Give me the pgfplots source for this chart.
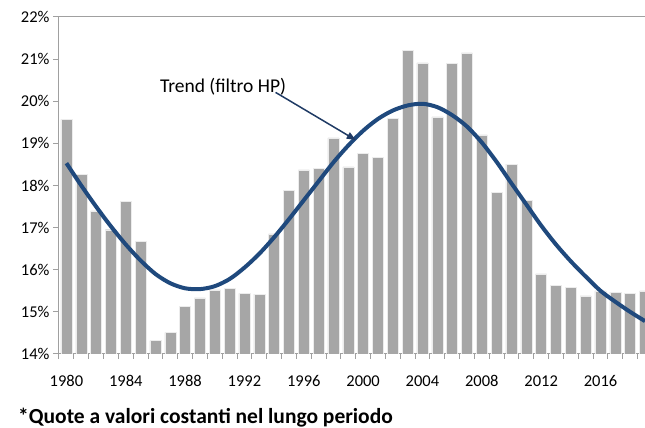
\documentclass[border=0pt]{standalone}
\usepackage{pgfplots}
\pgfplotsset{compat=1.18}
\usepackage{fontspec}
\setmainfont{Carlito}
\usetikzlibrary{arrows.meta}
\definecolor{bargray}{HTML}{A6A6A6}
\definecolor{trendblue}{HTML}{1F497D}
\definecolor{arrowblue}{HTML}{1F3A64}
\definecolor{axisgray}{HTML}{A0A0A0}
\begin{document}
\begin{tikzpicture}
\useasboundingbox (-59pt,-74pt) rectangle (586pt,354pt);
\clip (-59pt,-74pt) rectangle (586pt,354pt);
\begin{axis}[
    width=586pt, height=337pt,
    scale only axis,
    xmin=1979.5, xmax=2019,
    ymin=14, ymax=22,
    axis x line*=bottom,
    axis y line*=left,
    axis line style={draw=axisgray, line width=1pt, -},
    tick style={draw=axisgray, line width=1pt},
    tick align=outside,
    xtick={1980,1984,...,2016},
    major x tick style={draw=none},
    minor xtick={1979.5,1980.5,...,2018.5},
    minor tick length=5pt,
    ytick={14,15,...,22},
    major tick length=6pt,
    yticklabel={\pgfmathprintnumber{\tick}\%},
    xticklabel style={/pgf/number format/1000 sep={}},
    /pgf/number format/assume math mode=true,
    tick label style={font=\fontsize{16.5}{18}\selectfont, text=black},
    xticklabel style={yshift=-12pt},
    clip=true,
]
\draw[axisgray, line width=1pt] (axis cs:1979.5,22) -- (axis cs:2019,22);
\addplot[ybar, bar width=11pt, fill=bargray, draw=white!85!gray, line width=0.4pt]
coordinates {
(1980,19.57) (1981,18.27) (1982,17.40) (1983,16.95) (1984,17.62)
(1985,16.68) (1986,14.32) (1987,14.51) (1988,15.13) (1989,15.33)
(1990,15.52) (1991,15.56) (1992,15.44) (1993,15.42) (1994,16.85)
(1995,17.88) (1996,18.37) (1997,18.40) (1998,19.13) (1999,18.44)
(2000,18.77) (2001,18.67) (2002,19.59) (2003,21.20) (2004,20.91)
(2005,19.63) (2006,20.90) (2007,21.15) (2008,19.20) (2009,17.83)
(2010,18.51) (2011,17.65) (2012,15.90) (2013,15.63) (2014,15.59)
(2015,15.38) (2016,15.50) (2017,15.47) (2018,15.44) (2019,15.50)
};
\addplot[smooth, line width=4pt, trendblue]
coordinates {
(1980,18.53) (1981,18.00) (1982,17.50) (1983,17.03) (1984,16.60)
(1985,16.22) (1986,15.90) (1987,15.68) (1988,15.56) (1989,15.54)
(1990,15.61) (1991,15.78) (1992,16.05) (1993,16.38) (1994,16.77)
(1995,17.20) (1996,17.65) (1997,18.10) (1998,18.55) (1999,18.95)
(2000,19.30) (2001,19.58) (2002,19.78) (2003,19.90) (2004,19.94)
(2005,19.86) (2006,19.67) (2007,19.40) (2008,19.02) (2009,18.56)
(2010,18.05) (2011,17.55) (2012,17.05) (2013,16.60) (2014,16.20)
(2015,15.84) (2016,15.50) (2017,15.24) (2018,15.00) (2019,14.78)
};
\draw[-{Triangle[length=9pt,width=7pt]}, line width=1.5pt, arrowblue]
    (axis cs:1994.1,20.21) -- (axis cs:1999.5,19.08);
\node[anchor=base west, inner sep=0pt, font=\fontsize{19.5}{21}\selectfont]
    at (axis cs:1986.3,20.21) {Trend (filtro HP)};
\end{axis}
\node[anchor=base west, inner sep=0pt, font=\fontsize{21.5}{23}\selectfont\bfseries]
    at (-41pt,-70pt) {*Quote a valori costanti nel lungo periodo};
\end{tikzpicture}
\end{document}
